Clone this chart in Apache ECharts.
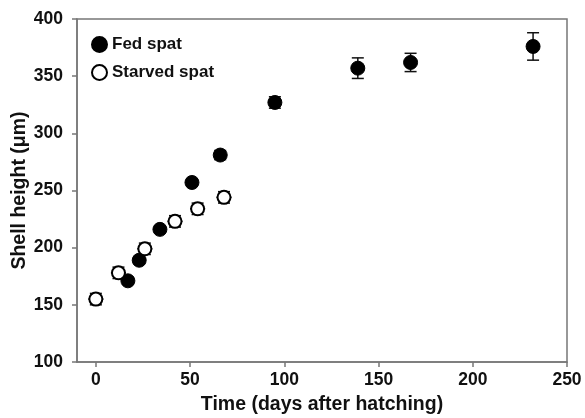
<!DOCTYPE html>
<html>
<head>
<meta charset="utf-8">
<script src="https://cdn.jsdelivr.net/npm/echarts@6/dist/echarts.min.js"></script>
<style>
html,body{margin:0;padding:0;background:#fff;}
#chart{width:585px;height:418px;}
</style>
</head>
<body>
<div id="chart"></div>
<script>
// ---- data ----
var fedDays = [17, 23, 34, 51, 66, 95, 139, 167, 232];
var fedHeight = [171, 189, 216, 257, 281, 327, 357, 362, 376];
var fedErr = [3, 3, 3, 3, 4, 5, 9, 8, 12];

var starvedDays = [0, 12, 26, 42, 54, 68];
var starvedHeight = [155, 178, 199, 223, 234, 244];
var starvedErr = [5, 5, 5, 5, 5, 5];
var starvedDayErr = [4, 4, 4, 4, 4, 4];

var seriesNames = ['Fed spat', 'Starved spat'];
var xTicks = [0, 50, 100, 150, 200, 250];
var yTicks = [100, 150, 200, 250, 300, 350, 400];

var FONT = "'Liberation Sans', Arial, Helvetica, sans-serif";
var AXIS_COLOR = '#777777';

function zip(xs, ys) { return xs.map(function (x, i) { return [x, ys[i]]; }); }

var fedErrData = fedDays.map(function (d, i) { return [d, fedHeight[i], fedErr[i], 0]; });
var starvedErrData = starvedDays.map(function (d, i) { return [d, starvedHeight[i], starvedErr[i], starvedDayErr[i]]; });

function renderErr(params, api) {
  var x = api.value(0), y = api.value(1), ey = api.value(2), ex = api.value(3);
  var c = api.coord([x, y]);
  var top = api.coord([x, y + ey]);
  var bot = api.coord([x, y - ey]);
  var cap = 6;
  var style = { stroke: '#111', lineWidth: 1.5, fill: null };
  var children = [
    { type: 'line', shape: { x1: c[0], y1: top[1], x2: c[0], y2: bot[1] }, style: style },
    { type: 'line', shape: { x1: c[0] - cap, y1: top[1], x2: c[0] + cap, y2: top[1] }, style: style },
    { type: 'line', shape: { x1: c[0] - cap, y1: bot[1], x2: c[0] + cap, y2: bot[1] }, style: style }
  ];
  if (ex > 0) {
    var l = api.coord([x - ex, y]);
    var r = api.coord([x + ex, y]);
    children.push({ type: 'line', shape: { x1: l[0], y1: c[1], x2: r[0], y2: c[1] }, style: style });
  }
  return { type: 'group', children: children };
}

var chart = echarts.init(document.getElementById('chart'), null, { renderer: 'canvas' });
chart.setOption({
  animation: false,
  backgroundColor: '#fff',
  grid: {
    left: 77, right: 18, top: 19, bottom: 56,
    containLabel: false, outerBoundsMode: 'none',
    show: true, borderColor: AXIS_COLOR, borderWidth: 1.5, backgroundColor: 'transparent'
  },
  legend: {
    orient: 'vertical',
    left: 86, top: 31,
    itemWidth: 15, itemHeight: 15, itemGap: 11,
    data: seriesNames,
    textStyle: { fontFamily: FONT, fontWeight: 'bold', fontSize: 17, color: '#111' }
  },
  xAxis: {
    type: 'value',
    min: -10, max: 250, interval: 50,
    name: 'Time (days after hatching)',
    nameLocation: 'middle', nameGap: 33, nameMoveOverlap: false,
    nameTextStyle: { fontFamily: FONT, fontWeight: 'bold', fontSize: 19.5, color: '#111' },
    axisLine: { show: true, onZero: false, lineStyle: { color: AXIS_COLOR, width: 1.5 } },
    axisTick: { show: true, inside: false, length: 5, lineStyle: { color: AXIS_COLOR, width: 1.5 },
      customValues: xTicks },
    axisLabel: { fontFamily: FONT, fontWeight: 'bold', fontSize: 17.5, color: '#111', margin: 9,
      customValues: xTicks, showMinLabel: true, showMaxLabel: true },
    splitLine: { show: false }
  },
  yAxis: {
    type: 'value',
    min: 100, max: 400, interval: 50,
    name: 'Shell height (μm)',
    nameLocation: 'middle', nameGap: 47, nameRotate: 90, nameMoveOverlap: false,
    nameTextStyle: { fontFamily: FONT, fontWeight: 'bold', fontSize: 19.5, color: '#111' },
    axisLine: { show: true, onZero: false, lineStyle: { color: AXIS_COLOR, width: 1.5 } },
    axisTick: { show: true, inside: false, length: 5, lineStyle: { color: AXIS_COLOR, width: 1.5 } },
    axisLabel: { fontFamily: FONT, fontWeight: 'bold', fontSize: 17.5, color: '#111', margin: 14 },
    splitLine: { show: false }
  },
  series: [
    {
      type: 'custom', name: 'fedErr', renderItem: renderErr, data: fedErrData,
      encode: { x: 0, y: 1 }, z: 1, silent: true
    },
    {
      type: 'custom', name: 'starvedErr', renderItem: renderErr, data: starvedErrData,
      encode: { x: 0, y: 1 }, z: 1, silent: true
    },
    {
      type: 'scatter', name: seriesNames[0], data: zip(fedDays, fedHeight),
      symbol: 'circle', symbolSize: 14, z: 3,
      itemStyle: { color: '#000', borderColor: '#000', borderWidth: 1, opacity: 1 }
    },
    {
      type: 'scatter', name: seriesNames[1], data: zip(starvedDays, starvedHeight),
      symbol: 'circle', symbolSize: 13, z: 3,
      itemStyle: { color: '#fff', borderColor: '#000', borderWidth: 2, opacity: 1 }
    }
  ]
});
</script>
</body>
</html>
